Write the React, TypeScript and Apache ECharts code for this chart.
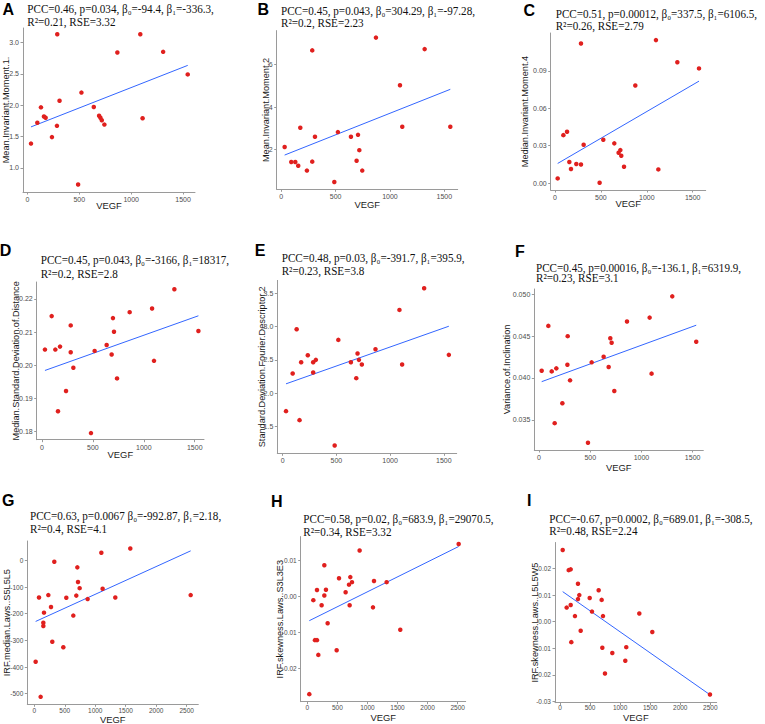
import React, { useEffect, useRef } from "react";
import * as echarts from "echarts";

// ---------------- data ----------------
const xTicksShort = [0, 500, 1000, 1500];
const xTicksLong = [0, 500, 1000, 1500, 2000, 2500];

const vegfA = [35, 96, 131, 160, 176, 237, 288, 285, 310, 489, 521, 640, 691, 704, 717, 742, 867, 1088, 1110, 1308, 1545];
const valA = [1.387, 1.72, 1.965, 1.82, 1.8, 1.49, 3.13, 1.67, 2.07, 0.735, 2.2, 1.97, 1.83, 1.8, 1.76, 1.69, 2.84, 3.13, 1.79, 2.85, 2.49];
const fitXA = [35, 1545];
const fitYA = [1.653, 2.634];
const yTicksA = [1.0, 1.5, 2.0, 2.5, 3.0];

const vegfB = [31, 92, 129, 156, 175, 236, 285, 285, 310, 488, 521, 641, 693, 706, 718, 745, 871, 1092, 1113, 1319, 1555];
const valB = [2.125, 1.42, 1.42, 1.25, 3.03, 1.02, 6.67, 1.44, 2.61, 0.48, 2.83, 2.61, 1.48, 2.7, 1.98, 1.02, 7.27, 5.03, 3.08, 6.73, 3.08];
const fitXB = [31, 1555];
const fitYB = [1.75, 4.84];
const yTicksB = [2, 4, 6];

const vegfC = [29, 91, 131, 156, 174, 232, 283, 283, 312, 486, 526, 646, 693, 712, 722, 752, 875, 1100, 1126, 1333, 1569];
const valC = [0.0037, 0.0384, 0.0411, 0.0168, 0.0112, 0.0152, 0.1119, 0.0149, 0.0307, 0.0002, 0.0347, 0.0318, 0.0243, 0.0264, 0.0219, 0.0131, 0.0782, 0.1146, 0.0109, 0.0969, 0.0919];
const fitXC = [29, 1569];
const fitYC = [0.0157, 0.0817];
const yTicksC = [0, 0.03, 0.06, 0.09];

const vegfD = [29, 95, 131, 157, 177, 236, 282, 282, 308, 481, 517, 635, 684, 697, 707, 737, 861, 1081, 1100, 1300, 1536];
const valD = [0.2047, 0.2148, 0.2047, 0.1861, 0.2056, 0.1922, 0.212, 0.2039, 0.1992, 0.1795, 0.2043, 0.2061, 0.2032, 0.2142, 0.2101, 0.196, 0.216, 0.2171, 0.2013, 0.2229, 0.2103];
const fitXD = [29, 1536];
const fitYD = [0.1984, 0.2149];
const yTicksD = [0.18, 0.19, 0.2, 0.21, 0.22];

const vegfE = [31, 93, 130, 157, 172, 234, 284, 284, 309, 484, 518, 635, 685, 697, 710, 737, 864, 1087, 1112, 1317, 1547];
const valE = [1.73, 2.295, 2.96, 1.595, 2.465, 2.57, 2.465, 2.31, 2.5, 1.215, 2.8, 2.465, 2.225, 2.595, 2.5, 2.43, 2.66, 3.25, 2.43, 3.575, 2.575];
const fitXE = [31, 1547];
const fitYE = [2.14, 3.005];
const yTicksE = [1.5, 2.0, 2.5, 3.0, 3.5];

const vegfF = [26, 91, 124, 153, 169, 228, 280, 277, 303, 478, 514, 631, 680, 696, 709, 735, 859, 1080, 1099, 1301, 1535];
const valF = [0.04087, 0.04623, 0.04079, 0.0346, 0.04115, 0.03698, 0.045, 0.04159, 0.03972, 0.03226, 0.04187, 0.04254, 0.04131, 0.04476, 0.04421, 0.03845, 0.04675, 0.04722, 0.04052, 0.04976, 0.04433];
const fitXF = [26, 1535];
const fitYF = [0.03956, 0.04631];
const yTicksF = [0.035, 0.04, 0.045, 0.05];

const vegfG = [22, 77, 104, 148, 148, 159, 230, 274, 295, 328, 476, 525, 640, 689, 706, 717, 744, 875, 1100, 1121, 1329, 1575, 2566];
const valG = [-380, -139, -512, -234, -246, -196, -130, -175, -305, -5, -326, -140, -207, -132, -26, -81, -104, -145, 29, -106, -139, 45, -130];
const fitXG = [22, 2566];
const fitYG = [-229, 36];
const yTicksG = [-500, -400, -300, -200, -100, 0];

const vegfH = [33, 100, 127, 161, 161, 183, 238, 283, 283, 310, 338, 488, 527, 637, 693, 704, 715, 743, 870, 1092, 1109, 1319, 1546, 2517];
const valH = [-0.0272, -0.0011, -0.0122, -0.0122, 0.0017, -0.0163, -0.0025, 0.0086, 0.0002, 0.0018, -0.0075, -0.015, 0.005, 0.0011, 0.0032, -0.0025, 0.0053, 0.0039, 0.0127, -0.0031, 0.0042, 0.0039, -0.0093, 0.0145];
const fitXH = [33, 2517];
const fitYH = [-0.0068, 0.0138];
const yTicksH = [-0.02, -0.01, 0, 0.01];

const vegfI = [45, 111, 145, 178, 178, 188, 249, 299, 299, 321, 344, 494, 532, 643, 693, 704, 715, 748, 870, 1086, 1102, 1319, 1535, 2494];
const valI = [0.027, 0.0053, 0.0194, 0.0197, 0.0063, -0.0077, 0.0021, 0.0143, 0.0085, 0.01, -0.0034, 0.0089, 0.0038, 0.0118, 0.0082, -0.0098, 0.0021, -0.0195, -0.0118, -0.0147, -0.0096, 0.0031, -0.0039, -0.0274];
const fitXI = [45, 2494];
const fitYI = [0.0113, -0.0275];
const yTicksI = [-0.03, -0.02, -0.01, 0, 0.01, 0.02];

const letters = ["A", "B", "C", "D", "E", "F", "G", "H", "I"];
const yTitles = [
  "Mean.Invariant.Moment.1.",
  "Mean.Invariant.Moment.2",
  "Median.Invariant.Moment.4",
  "Median.Standard.Deviation.of.Distance",
  "Standard.Deviation.Fourier.Descriptor.2",
  "Variance.of.Inclination",
  "IRF.median.Laws..S5L5L5",
  "IRF.skewness.Laws..S3L3E3",
  "IRF.skewness.Laws..L5L5W5",
];
const titleLine1 = [
  "PCC=0.46, p=0.034, β₀=-94.4, β₁=-336.3,",
  "PCC=0.45, p=0.043, β₀=304.29, β₁=-97.28,",
  "PCC=0.51, p=0.00012, β₀=337.5, β₁=6106.5,",
  "PCC=0.45, p=0.043, β₀=-3166, β₁=18317,",
  "PCC=0.48, p=0.03, β₀=-391.7, β₁=395.9,",
  "PCC=0.45, p=0.00016, β₀=-136.1, β₁=6319.9,",
  "PCC=0.63, p=0.0067 β₀=-992.87, β₁=2.18,",
  "PCC=0.58, p=0.02, β₀=683.9, β₁=29070.5,",
  "PCC=-0.67, p=0.0002, β₀=689.01, β₁=-308.5,",
];
const titleLine2 = [
  "R²=0.21, RSE=3.32",
  "R²=0.2, RSE=2.23",
  "R²=0.26, RSE=2.79",
  "R²=0.2, RSE=2.8",
  "R²=0.23, RSE=3.8",
  "R²=0.23, RSE=3.1",
  "R²=0.4, RSE=4.1",
  "R²=0.34, RSE=3.32",
  "R²=0.48, RSE=2.24",
];
const xTitle = "VEGF";

// ---------------- layout (pixels) ----------------
type Layout = {
  left: number; top: number; right: number; bottom: number;
  xMin: number; xMax: number; yMin: number; yMax: number; dec: number;
  letterX: number; letterY: number; titleX: number; t1Y: number; t2Y: number;
  yTitleX: number; xTitleY: number; tickFont: number; xLabelMargin: number; showXTitle: boolean;
};
const L: Layout[] = [
  { left: 23, top: 28, right: 195, bottom: 192, xMin: -42, xMax: 1615, yMin: 0.615, yMax: 3.23, dec: 1, letterX: 8.3, letterY: 9.5, titleX: 27.3, t1Y: 8.5, t2Y: 21.5, yTitleX: 6, xTitleY: 205, tickFont: 7, xLabelMargin: 3.5, showXTitle: true },
  { left: 276.7, top: 30.6, right: 457.7, bottom: 189.3, xMin: -42, xMax: 1623, yMin: 0.14, yMax: 7.6, dec: 0, letterX: 263.3, letterY: 9.5, titleX: 281, t1Y: 10.5, t2Y: 22.5, yTitleX: 265.5, xTitleY: 204, tickFont: 7, xLabelMargin: 3.5, showXTitle: true },
  { left: 550.7, top: 33, right: 705.7, bottom: 190, xMin: -47, xMax: 1642, yMin: -0.0056, yMax: 0.1203, dec: 2, letterX: 529.3, letterY: 10.7, titleX: 555.7, t1Y: 13.3, t2Y: 26, yTitleX: 525, xTitleY: 203.3, tickFont: 7, xLabelMargin: 3.5, showXTitle: true },
  { left: 36.7, top: 282, right: 204, bottom: 439.7, xMin: -52, xMax: 1591, yMin: 0.1775, yMax: 0.2251, dec: 2, letterX: 5.5, letterY: 250, titleX: 40.7, t1Y: 260, t2Y: 274, yTitleX: 16, xTitleY: 454, tickFont: 7, xLabelMargin: 3.5, showXTitle: true },
  { left: 277.3, top: 280.4, right: 456.7, bottom: 453.3, xMin: -50, xMax: 1620, yMin: 1.097, yMax: 3.693, dec: 1, letterX: 260, letterY: 250, titleX: 281.7, t1Y: 257.7, t2Y: 270.3, yTitleX: 261.7, xTitleY: 469, tickFont: 7, xLabelMargin: 3.5, showXTitle: false },
  { left: 534.3, top: 289, right: 703.3, bottom: 450, xMin: -46, xMax: 1604, yMin: 0.03139, yMax: 0.05064, dec: 3, letterX: 520, letterY: 251, titleX: 536, t1Y: 267.7, t2Y: 278, yTitleX: 507, xTitleY: 467, tickFont: 7, xLabelMargin: 3, showXTitle: true },
  { left: 27.3, top: 541, right: 198.3, bottom: 704.3, xMin: -115, xMax: 2691, yMin: -540, yMax: 73, dec: 0, letterX: 8.3, letterY: 500, titleX: 30, t1Y: 515.7, t2Y: 528.3, yTitleX: 7.3, xTitleY: 719.5, tickFont: 6.5, xLabelMargin: 2, showXTitle: true },
  { left: 300.7, top: 536.6, right: 465.7, bottom: 701.7, xMin: -110, xMax: 2634, yMin: -0.0293, yMax: 0.01655, dec: 2, letterX: 276.7, letterY: 501, titleX: 303.3, t1Y: 518.7, t2Y: 531.7, yTitleX: 280, xTitleY: 717.3, tickFont: 6.5, xLabelMargin: 2, showXTitle: true },
  { left: 555, top: 542.5, right: 716.7, bottom: 702.7, xMin: -83, xMax: 2606, yMin: -0.0305, yMax: 0.0298, dec: 2, letterX: 529.3, letterY: 500, titleX: 549.3, t1Y: 518.3, t2Y: 531, yTitleX: 535, xTitleY: 717.5, tickFont: 6.5, xLabelMargin: 1.5, showXTitle: true },
];

const xs = [vegfA, vegfB, vegfC, vegfD, vegfE, vegfF, vegfG, vegfH, vegfI];
const ys = [valA, valB, valC, valD, valE, valF, valG, valH, valI];
const fxs = [fitXA, fitXB, fitXC, fitXD, fitXE, fitXF, fitXG, fitXH, fitXI];
const fys = [fitYA, fitYB, fitYC, fitYD, fitYE, fitYF, fitYG, fitYH, fitYI];
const yTickSets = [yTicksA, yTicksB, yTicksC, yTicksD, yTicksE, yTicksF, yTicksG, yTicksH, yTicksI];

const AXIS_COLOR = "#9a9a9a";
const TICK_TEXT = "#4d4d4d";
const DOT = "#e0201e";
const FIT = "#3366ff";
const SANS = "'Liberation Sans', Arial, sans-serif";
const SERIF = "'Liberation Serif', 'Times New Roman', serif";
const TITLE_SCALE_X = 0.89;

function buildOption() {
  const grid: any[] = [];
  const xAxis: any[] = [];
  const yAxis: any[] = [];
  const series: any[] = [];
  const graphic: any[] = [];

  L.forEach((p, i) => {
    grid.push({ left: p.left, top: p.top, width: p.right - p.left, height: p.bottom - p.top, containLabel: false });
    const xt = i < 6 ? xTicksShort : xTicksLong;
    xAxis.push({
      gridIndex: i, type: "value", min: p.xMin, max: p.xMax,
      axisLine: { show: true, onZero: false, lineStyle: { color: AXIS_COLOR, width: 1 } },
      axisTick: { show: true, length: 2.5, customValues: xt, lineStyle: { color: AXIS_COLOR } },
      axisLabel: { customValues: xt, fontSize: p.tickFont, color: TICK_TEXT, margin: p.xLabelMargin, fontFamily: SANS, lineHeight: p.tickFont + 1, formatter: (v: number) => String(Math.round(v)) },
      splitLine: { show: false },
    });
    const yt = yTickSets[i];
    yAxis.push({
      gridIndex: i, type: "value", min: p.yMin, max: p.yMax,
      axisLine: { show: true, onZero: false, lineStyle: { color: AXIS_COLOR, width: 1 } },
      axisTick: { show: true, length: 2.5, customValues: yt, lineStyle: { color: AXIS_COLOR } },
      axisLabel: {
        customValues: yt, fontSize: p.tickFont, color: TICK_TEXT, margin: 4, fontFamily: SANS,
        formatter: (v: number) => Number(v).toFixed(p.dec),
      },
      splitLine: { show: false },
    });
    series.push({
      type: "line", xAxisIndex: i, yAxisIndex: i,
      data: fxs[i].map((x, k) => [x, fys[i][k]]),
      showSymbol: false, lineStyle: { color: FIT, width: 1 }, z: 2,
    });
    series.push({
      type: "scatter", xAxisIndex: i, yAxisIndex: i,
      data: xs[i].map((x, k) => [x, ys[i][k]]),
      symbolSize: 4.5, itemStyle: { color: DOT, opacity: 1 }, z: 3,
    });

    graphic.push({ type: "text", x: p.letterX, y: p.letterY, style: { text: letters[i], font: `bold 16px ${SANS}`, fill: "#000", textAlign: "center", textVerticalAlign: "middle" } });
    graphic.push({ type: "text", x: p.titleX, y: p.t1Y, scaleX: TITLE_SCALE_X, style: { text: titleLine1[i], font: `12.5px ${SERIF}`, fill: "#111", textAlign: "left", textVerticalAlign: "middle" } });
    graphic.push({ type: "text", x: p.titleX, y: p.t2Y, scaleX: TITLE_SCALE_X, style: { text: titleLine2[i], font: `12.5px ${SERIF}`, fill: "#111", textAlign: "left", textVerticalAlign: "middle" } });
    graphic.push({ type: "text", x: p.yTitleX, y: (p.top + p.bottom) / 2, rotation: Math.PI / 2, style: { text: yTitles[i], font: `9.2px ${SANS}`, fill: "#1a1a1a", textAlign: "center", textVerticalAlign: "middle" } });
    if (p.showXTitle) {
      graphic.push({ type: "text", x: (p.left + p.right) / 2, y: p.xTitleY, style: { text: xTitle, font: `9.4px ${SANS}`, fill: "#1a1a1a", textAlign: "center", textVerticalAlign: "middle", lineHeight: 10 } });
    }
  });

  return { animation: false, backgroundColor: "#fff", grid, xAxis, yAxis, series, graphic };
}

export default function App() {
  const ref = useRef<HTMLDivElement>(null);
  useEffect(() => {
    if (!ref.current) return;
    const chart = echarts.init(ref.current, null, { renderer: "svg" });
    chart.setOption(buildOption() as any);
    return () => chart.dispose();
  }, []);
  return <div ref={ref} style={{ position: "absolute", left: 0, top: 0, width: 765, height: 724, background: "#fff" }} />;
}
